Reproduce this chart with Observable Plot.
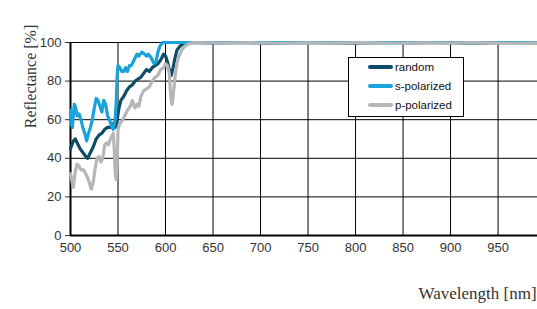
<!DOCTYPE html>
<html>
<head>
<meta charset="utf-8">
<script src="https://cdn.jsdelivr.net/npm/d3@7"></script>
<script src="https://cdn.jsdelivr.net/npm/@observablehq/plot@0.6"></script>
<style>
  html, body { margin: 0; padding: 0; background: #fff; }
  #wrap { position: relative; width: 537px; height: 309px; overflow: hidden; }
  #legend { position: absolute; left: 348px; top: 57px; width: 114px; height: 58px;
    border: 1px solid #000; background: #fff; font-family: "Liberation Sans", Arial, sans-serif;
    font-size: 11.5px; color: #111; }
  .row { position: absolute; left: 0; height: 14px; display: flex; align-items: center; }
  .sw { width: 25px; height: 4px; border-radius: 2px; margin-left: 19px; margin-right: 2px; }
</style>
</head>
<body>
<div id="wrap"></div>
<script>
const seriesNames = ["random", "s-polarized", "p-polarized"];
const seriesColors = ["#0c4c69", "#1aa2dc", "#b5b6b8"];
const xTicks = [500, 550, 600, 650, 700, 750, 800, 850, 900, 950];
const yTicks = [0, 20, 40, 60, 80, 100];

const randomNm = [500,503,505,508,510,513,516,518,521,524,527,530,533,536,539,542,545,547,549,551,553,556,559,562,565,568,571,574,577,580,583,586,589,592,595,598,600,602,604,606,608,610,612,615,619,625,650,680,710,740,770,800,830,860,890,920,950,991];
const randomVal = [45,49,50,47,45,43,41,40,43,46,50,52,53,55,56,56,58,56,60,66,70,72,75,77,78,80,81,82,84,86,85,87,88,89,91,94,93,90,86,83,87,92,96,98,99.5,100,99.8,100,99.7,100,99.8,99.7,100,99.8,100,99.7,99.9,99.8];

const sNm = [500,501,502,504,505,507,509,511,513,515,517,519,521,523,525,527,529,531,533,535,537,539,541,543,545,547,548,549,550,552,554,556,558,560,562,564,566,568,570,572,575,578,580,582,585,588,590,592,594,597,620,650,680,710,740,770,800,830,860,890,920,950,991];
const sVal = [65,58,56,68,67,62,63,60,56,53,49,53,56,60,66,71,70,67,64,70,68,62,60,57,55,60,68,82,88,87,85,85,87,85,88,88,90,92,94,93,95,94,93,94,92,89,90,95,98,100,100,99.9,100,100,99.9,100,100,99.9,100,100,99.9,100,100];

const pNm = [500,502,503,505,507,509,511,514,516,518,520,522,524,526,528,530,532,534,536,538,540,542,544,545,546,547,548,549,550,552,555,558,560,563,565,568,570,572,574,577,580,583,586,589,592,595,598,600,602,604,605,606,607,608,610,612,614,617,620,625,630,660,690,720,750,780,810,840,870,900,930,960,991];
const pVal = [32,27,25,33,37,36,34,34,32,30,27,24,28,35,40,41,38,40,47,48,47,50,52,53,45,33,29,36,55,58,60,63,65,67,70,66,68,67,72,75,76,77,80,82,83,86,87,89,88,84,76,70,68,72,82,89,93,96,98,99.5,100,99.7,99.9,99.6,99.8,99.7,99.9,99.6,99.8,99.7,99.9,99.6,99.7];

function rows(nm, val, name) { return nm.map((x, i) => ({x, y: val[i], series: name})); }
const data = [
  ...rows(randomNm, randomVal, seriesNames[0]),
  ...rows(sNm, sVal, seriesNames[1]),
  ...rows(pNm, pVal, seriesNames[2])
];

const chart = Plot.plot({
  width: 537,
  height: 309,
  marginLeft: 70,
  marginRight: 0,
  marginTop: 42,
  marginBottom: 74,
  style: { fontFamily: "'Liberation Sans', Arial, sans-serif", fontSize: "13px", color: "#333", background: "#fff", overflow: "visible" },
  x: { domain: [500, 991.5], ticks: xTicks, label: null },
  y: { domain: [0, 100], ticks: yTicks, label: null },
  color: { domain: seriesNames, range: seriesColors },
  marks: [
    Plot.gridX(xTicks, { stroke: "#000", strokeOpacity: 1, strokeWidth: 1 }),
    Plot.gridY(yTicks, { stroke: "#000", strokeOpacity: 1, strokeWidth: 1 }),
    Plot.axisX({ ticks: xTicks, tickSize: 0, tickPadding: 7, fontSize: 13, label: null }),
    Plot.axisY({ ticks: yTicks, tickSize: 5, tickPadding: 4, fontSize: 13, label: null }),
    Plot.ruleX([500], { stroke: "#000", strokeWidth: 2 }),
    Plot.ruleY([0], { stroke: "#000", strokeWidth: 2 }),
    Plot.line(data, { x: "x", y: "y", z: "series", stroke: "series", strokeWidth: 3.2, strokeLinejoin: "round" }),
    Plot.text(["Reflectance [%]"], { frameAnchor: "top-left", dx: -46, dy: 34, rotate: -90, textAnchor: "middle",
      fontFamily: "'Liberation Serif', 'Times New Roman', serif", fontSize: 16, fill: "#333" }),
    Plot.text(["Wavelength [nm]"], { frameAnchor: "bottom-left", dx: 348, dy: 63, textAnchor: "start",
      fontFamily: "'Liberation Serif', 'Times New Roman', serif", fontSize: 17, fill: "#333" })
  ]
});
const wrap = document.getElementById("wrap");
wrap.appendChild(chart);

const legend = document.createElement("div");
legend.id = "legend";
seriesNames.forEach((name, i) => {
  const row = document.createElement("div");
  row.className = "row";
  row.style.top = (2 + i * 19) + "px";
  const sw = document.createElement("div");
  sw.className = "sw";
  sw.style.background = seriesColors[i];
  const t = document.createElement("span");
  t.textContent = name;
  row.appendChild(sw); row.appendChild(t);
  legend.appendChild(row);
});
wrap.appendChild(legend);
</script>
</body>
</html>
